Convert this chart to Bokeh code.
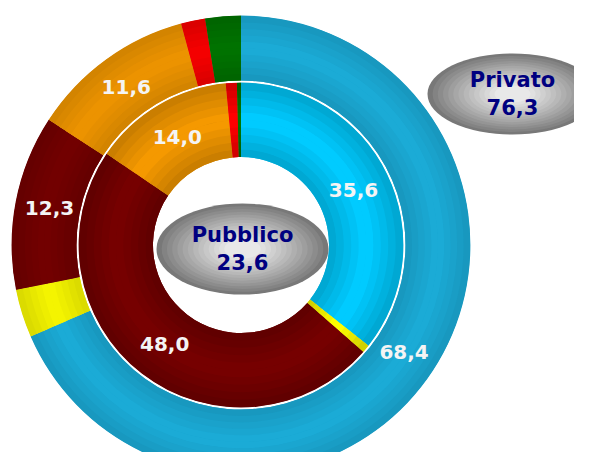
import numpy as np
from bokeh.plotting import figure
from bokeh.models import Range1d
from bokeh.embed import file_html
from bokeh.resources import INLINE
from bokeh.core.properties import value

# ---------------- data ----------------
categories = ["Azzurro", "Giallo", "Bordeaux", "Arancio", "Rosso", "Verde"]
outer_values = [68.4, 3.4, 12.3, 11.6, 1.7, 2.5]    # Privato ring
inner_values = [35.6, 0.8, 48.0, 14.0, 1.1, 0.4]    # Pubblico ring
outer_labels = ["68,4", "", "12,3", "11,6", "", ""]
inner_labels = ["35,6", "", "48,0", "14,0", "", ""]
group_names = ["Privato", "Pubblico"]
group_totals = ["76,3", "23,6"]

outer_colors = ["#1AA2CB", "#E8E800", "#6C0000", "#E08C00", "#E80000", "#006C00"]
inner_colors = ["#00BAEA", "#E8E800", "#6C0000", "#E08C00", "#E80000", "#006C00"]

# ---------------- layout ----------------
W, H = 574, 452
p = figure(width=W, height=H, output_backend="svg", toolbar_location=None,
           x_range=Range1d(0, W), y_range=Range1d(468 - H, 468),
           min_border=0, background_fill_color="white", border_fill_color="white")
p.axis.visible = False
p.grid.visible = False
p.outline_line_color = None

cx, cy = 240.5, 468 - 244.5
R_hole, R_in, R_gap, R_out = 88, 162, 164.5, 229


def hexrgb(h):
    h = h.lstrip("#")
    return np.array([int(h[i:i + 2], 16) for i in (0, 2, 4)], dtype=float)


def shade(h, f):
    c = np.clip(hexrgb(h) * f, 0, 255).astype(int)
    return "#%02x%02x%02x" % tuple(c)


def draw_ring(values, colors, r0, r1, amp):
    tot = float(sum(values))
    cum = np.concatenate([[0], np.cumsum(values)]) / tot * 2 * np.pi
    starts = np.pi / 2 - cum[:-1]
    ends = np.pi / 2 - cum[1:]
    n = len(values)
    p.annular_wedge(x=[cx] * n, y=[cy] * n, inner_radius=r0, outer_radius=r1,
                    start_angle=starts, end_angle=ends, direction="clock",
                    fill_color=colors, line_color=None)
    nb = 10
    edges = np.linspace(r0, r1, nb + 1)
    for b in range(nb):
        t = (b + 0.5) / nb
        f = 1 - amp + 2 * amp * (1 - abs(2 * t - 1))
        cols = [shade(c, f) for c in colors]
        p.annular_wedge(x=[cx] * n, y=[cy] * n, inner_radius=edges[b],
                        outer_radius=edges[b + 1] + 0.4,
                        start_angle=starts, end_angle=ends, direction="clock",
                        fill_color=cols, line_color=None)
    return cum


cum_o = draw_ring(outer_values, outer_colors, R_gap, R_out, 0.07)
cum_i = draw_ring(inner_values, inner_colors, R_hole, R_in, 0.12)


def ring_labels(cum, labels, r):
    mids = (cum[:-1] + cum[1:]) / 2
    xs, ys, ts = [], [], []
    for m, t in zip(mids, labels):
        if t:
            xs.append(cx + r * np.sin(m))
            ys.append(cy + r * np.cos(m))
            ts.append(t)
    p.text(x=xs, y=ys, text=ts, text_color="#F4F4F4",
           text_font=value("DejaVu Sans"), text_font_style="bold",
           text_font_size="20px", text_align="center", text_baseline="middle")


ring_labels(cum_o, outer_labels, 195)
ring_labels(cum_i, inner_labels, 125)

# ---------------- gray ellipses with names ----------------
ell = [(512, 468 - 93.5, 170, 81), (242, 468 - 248.5, 172, 91)]
for (ex, ey, ew, eh), name, tot in zip(ell, group_names, group_totals):
    nl = 14
    dark, light = np.array([120, 120, 120]), np.array([232, 232, 232])
    for k in range(nl):
        s = 1 - 0.85 * k / nl
        u = (k / (nl - 1)) ** 0.9
        c = (dark + (light - dark) * u).astype(int)
        p.ellipse(x=[ex], y=[ey], width=ew * s, height=eh * s,
                  fill_color="#%02x%02x%02x" % tuple(c), line_color=None)
    p.text(x=[ex, ex], y=[ey + 14, ey - 13], text=[name, tot], text_color="#000080",
           text_font=value("DejaVu Sans"), text_font_style="bold",
           text_font_size="21px", text_align="center", text_baseline="middle")

open("out.html", "w").write(file_html(p, INLINE))
